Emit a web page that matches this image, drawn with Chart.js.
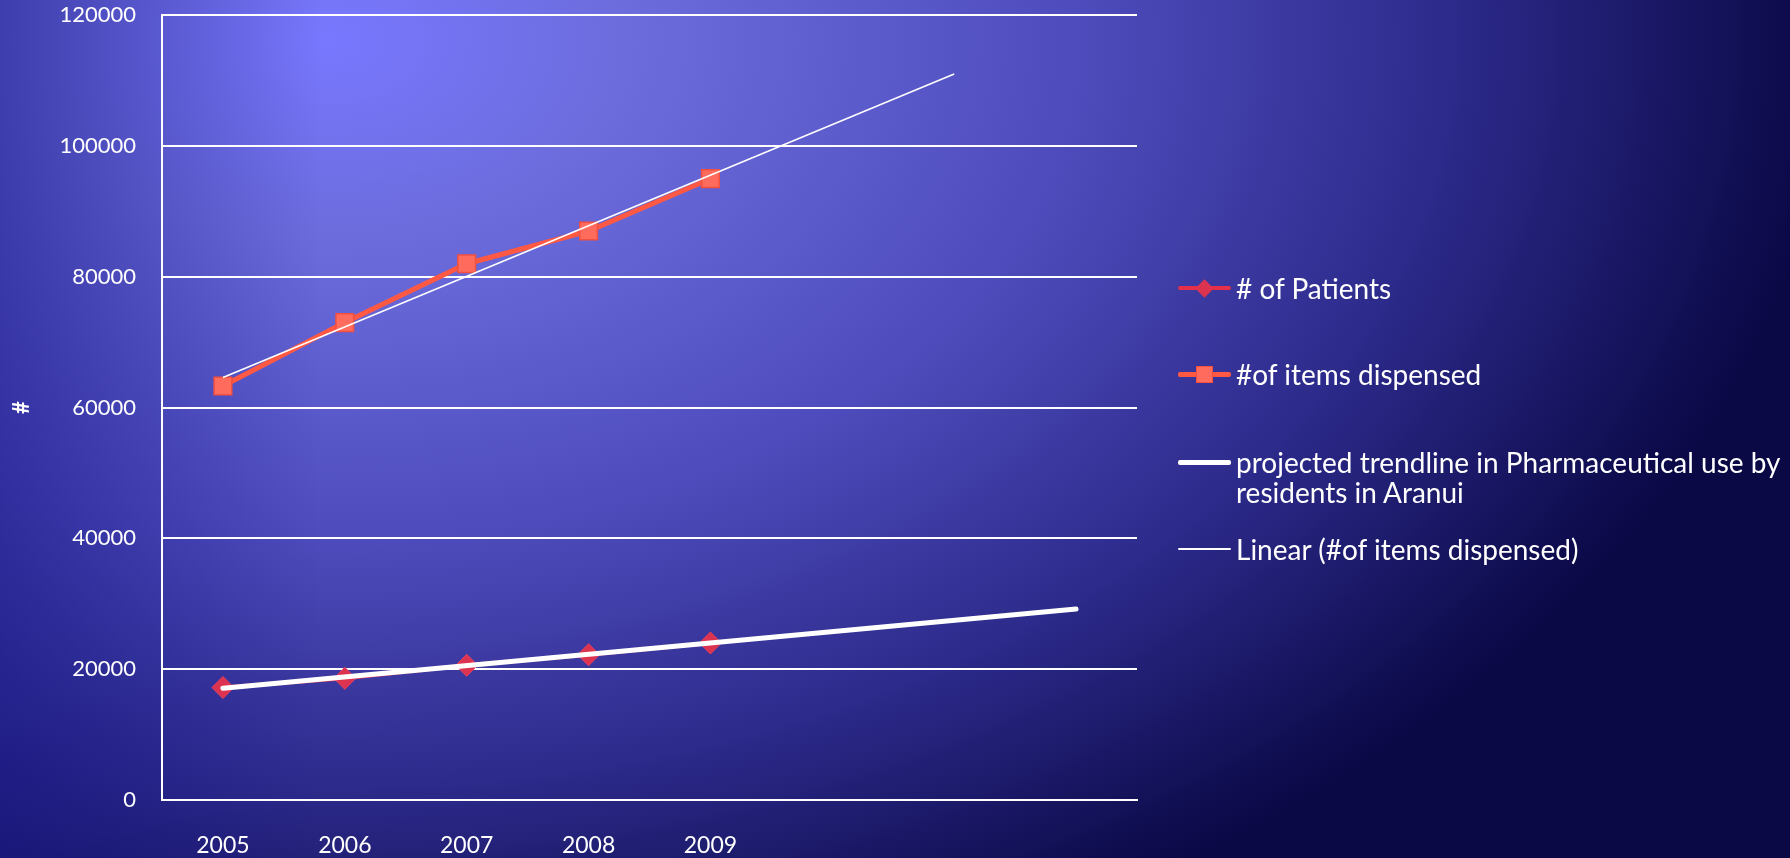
<!DOCTYPE html>
<html>
<head>
<meta charset="utf-8">
<script src="https://cdn.jsdelivr.net/npm/chart.js@4/dist/chart.umd.min.js"></script>
<style>
  html, body { margin: 0; padding: 0; overflow: hidden; }
  #wrap {
    position: relative; width: 1790px; height: 858px; overflow: hidden;
    background:
      linear-gradient(to right, rgba(20,18,130,0.5) 0%, rgba(20,18,130,0) 18%),
      radial-gradient(ellipse 1500px 1000px at 330px 40px, #7878ff 0%, #6c6cdc 20%, #4e4cbc 50%, #2c2a8a 75%, #0a0845 100%);
    font-family: Lato, "Open Sans", sans-serif;
  }
  canvas { position: absolute; left: 0; top: -24px; }
  .leg { position: absolute; left: 1178px; color: #fff; font-size: 28px; line-height: 30px; }
  .leg .sym { position: absolute; left: 0; top: 15px; width: 53px; height: 0; }
  .leg .txt { position: absolute; left: 58px; top: 0; width: 545px; white-space: normal; }
  .leg .ln { position: absolute; left: 0; width: 53px; border-radius: 2px; }
  .leg .mk { position: absolute; }
</style>
</head>
<body>
<div id="wrap">
  <canvas id="c" width="1790" height="882"></canvas>
  <div id="legend"></div>
</div>
<script>
// ---- data ----
const categories = ['2005', '2006', '2007', '2008', '2009', '', '', ''];
const patients = [17200, 18600, 20600, 22200, 24000, null, null, null];
const itemsDispensed = [63300, 73000, 82000, 87000, 95000, null, null, null];
const projectedTrend = [17100, null, null, null, null, null, null, 29200];
const linearItems = [64600, null, null, null, null, null, 111000, null];
const yTicks = [0, 20000, 40000, 60000, 80000, 100000, 120000];
const seriesLabels = ['# of Patients', '#of items dispensed',
  'projected trendline in Pharmaceutical use by residents in Aranui',
  'Linear (#of items dispensed)'];

const ctx = document.getElementById('c');
const chart = new Chart(ctx, {
  type: 'line',
  data: {
    labels: categories,
    datasets: [
      {
        label: seriesLabels[0], data: patients, order: 3,
        borderColor: '#e6304a', borderWidth: 4,
        pointStyle: 'rectRot', pointRadius: 11, pointHoverRadius: 11,
        pointBackgroundColor: '#dc3450', pointBorderColor: '#e8405a', pointBorderWidth: 1,
        tension: 0
      },
      {
        label: seriesLabels[1], data: itemsDispensed, order: 2,
        borderColor: '#ff5944', borderWidth: 5,
        pointStyle: 'rect', pointRadius: 12.5, pointHoverRadius: 12.5,
        pointBackgroundColor: '#ff6b5c', pointBorderColor: '#f4503f', pointBorderWidth: 1.5,
        tension: 0
      },
      {
        label: seriesLabels[2], data: projectedTrend, order: 1,
        borderColor: '#ffffff', borderWidth: 5, borderCapStyle: 'round',
        pointRadius: 0, spanGaps: true, tension: 0
      },
      {
        label: seriesLabels[3], data: linearItems, order: 0,
        borderColor: '#ffffff', borderWidth: 1.6,
        pointRadius: 0, spanGaps: true, tension: 0
      }
    ]
  },
  options: {
    responsive: false,
    animation: false,
    layout: { padding: { left: 0, top: 15, right: 653, bottom: 0 } },
    plugins: { legend: { display: false }, tooltip: { enabled: false } },
    scales: {
      x: {
        offset: true,
        grid: { display: false, drawTicks: false },
        border: { display: true, color: '#ffffff', width: 2 },
        ticks: { color: '#ffffff', padding: 32, font: { family: 'Lato', size: 23 }, maxRotation: 0, autoSkip: false },
        afterFit: (s) => { s.height = 58; }
      },
      y: {
        min: 0, max: 120000,
        afterBuildTicks: (s) => { s.ticks = yTicks.map(v => ({ value: v })); },
        grid: { color: '#ffffff', lineWidth: 2, drawTicks: false },
        border: { display: true, color: '#ffffff', width: 2 },
        ticks: { color: '#ffffff', padding: 26, font: { family: 'Lato', size: 22 }, callback: (v) => String(v) },
        title: { display: true, text: '#', color: '#ffffff', font: { family: 'Lato', size: 22, weight: 'bold' }, padding: { top: 9, bottom: 0 } },
        afterFit: (s) => { s.width = 162; }
      }
    }
  }
});

// ---- HTML legend built from dataset labels ----
const legendRows = [
  { top: 273, line: '#e6304a', lw: 4, mk: 'diamond', mc: '#dc3450' },
  { top: 359, line: '#ff5944', lw: 5, mk: 'square', mc: '#ff6b5c' },
  { top: 447, line: '#ffffff', lw: 5, mk: null },
  { top: 534, line: '#ffffff', lw: 2, mk: null }
];
const legend = document.getElementById('legend');
chart.data.datasets.forEach((ds, i) => {
  const r = legendRows[i];
  const row = document.createElement('div');
  row.className = 'leg';
  row.style.top = r.top + 'px';
  const sym = document.createElement('div');
  sym.className = 'sym';
  const ln = document.createElement('div');
  ln.className = 'ln';
  ln.style.height = r.lw + 'px';
  ln.style.top = (-r.lw / 2) + 'px';
  ln.style.background = r.line;
  sym.appendChild(ln);
  if (r.mk === 'diamond') {
    const m = document.createElement('div');
    m.className = 'mk';
    m.style.width = '13px'; m.style.height = '13px';
    m.style.left = '20px'; m.style.top = '-6.5px';
    m.style.background = r.mc;
    m.style.transform = 'rotate(45deg)';
    sym.appendChild(m);
  } else if (r.mk === 'square') {
    const m = document.createElement('div');
    m.className = 'mk';
    m.style.width = '17px'; m.style.height = '17px';
    m.style.left = '18px'; m.style.top = '-8.5px';
    m.style.background = r.mc;
    m.style.boxSizing = 'border-box';
    m.style.border = '1px solid #f4503f';
    sym.appendChild(m);
  }
  const txt = document.createElement('div');
  txt.className = 'txt';
  txt.textContent = ds.label;
  row.appendChild(sym);
  row.appendChild(txt);
  legend.appendChild(row);
});
</script>
</body>
</html>
